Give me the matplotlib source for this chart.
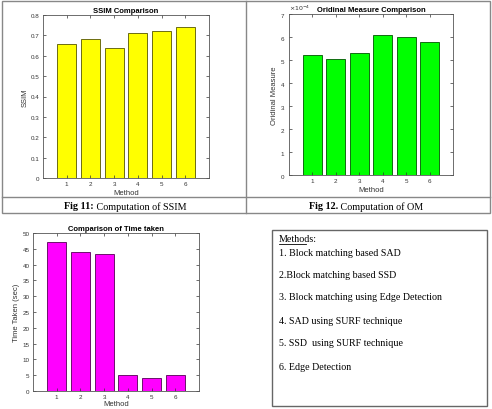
import matplotlib
matplotlib.use("Agg")
import matplotlib.pyplot as plt
from matplotlib.patches import Rectangle

methods = [1, 2, 3, 4, 5, 6]
ssim = [0.66, 0.68, 0.64, 0.71, 0.72, 0.74]
om = [5.2e-4, 5.05e-4, 5.3e-4, 6.1e-4, 6.0e-4, 5.8e-4]
time_taken = [47, 44, 43.5, 5, 4, 5]
method_names = ["1. Block matching based SAD", "2.Block matching based SSD",
                "3. Block matching using Edge Detection", "4. SAD using SURF technique",
                "5. SSD  using SURF technique", "6. Edge Detection"]

W, H = 492, 410
fig = plt.figure(figsize=(W/100, H/100), dpi=100)
sans = ["Liberation Sans", "DejaVu Sans"]
serif = ["Liberation Serif", "DejaVu Serif"]

# background overlay in pixel coords
bg = fig.add_axes([0, 0, 1, 1], zorder=-1)
bg.set_xlim(0, W); bg.set_ylim(H, 0); bg.axis("off")
lc = "#888888"
bg.add_patch(Rectangle((2, 2), 488, 212, fill=False, ec=lc, lw=1))
bg.plot([2, 490], [198, 198], color=lc, lw=1)
bg.plot([246, 246], [2, 214], color=lc, lw=1)
bg.add_patch(Rectangle((272, 231), 215, 176, fill=False, ec="#666666", lw=1))

def caption(xc, bold, rest):
    bg.text(xc, 207, bold, fontsize=7.3, family=serif, fontweight="bold", ha="right", va="center")
    bg.text(xc, 207, rest, fontsize=7.3, family=serif, ha="left", va="center")
caption(94, "Fig 11:", " Computation of SSIM")
caption(338, "Fig 12.", " Computation of OM")

# text box
bg.text(279, 240, "Methods:", fontsize=7.2, family=serif, va="center", ha="left")
bg.plot([279, 306], [245, 245], color="black", lw=0.6)
ys = [253, 276, 298, 322, 344, 368]
for y, s in zip(ys, method_names):
    bg.text(279, y, s, fontsize=7.2, family=serif, va="center", ha="left")

def px(l, r, t, b):
    return [l/W, 1 - b/H, (r - l)/W, (b - t)/H]

def style(ax, title, ylabel, xpad=1.5):
    ax.set_xlim(0, 7)
    ax.set_xticks(methods)
    ax.tick_params(direction="in", length=2, width=0.5, labelsize=4.5, top=True, right=True, pad=2.5, colors="#333333")
    for sp in ax.spines.values():
        sp.set_color("#555555"); sp.set_linewidth(0.6)
    ax.set_title(title, fontsize=5.5, fontweight="bold", family=sans, pad=2)
    ax.set_xlabel("Method", fontsize=5.5, family=sans, color="#333333", labelpad=xpad)
    ax.set_ylabel(ylabel, fontsize=5.5, family=sans, color="#333333", labelpad=1.5)
    for lab in ax.get_xticklabels() + ax.get_yticklabels():
        lab.set_family(sans)

ax1 = fig.add_axes(px(43, 209, 16, 179))
ax1.bar(methods, ssim, width=0.8, color="#FFFF00", edgecolor="#555500", linewidth=0.6)
ax1.set_ylim(0, 0.8)
ax1.set_yticks([0, 0.1, 0.2, 0.3, 0.4, 0.5, 0.6, 0.7, 0.8])
ax1.set_yticklabels(["0", "0.1", "0.2", "0.3", "0.4", "0.5", "0.6", "0.7", "0.8"])
style(ax1, "SSIM Comparison", "SSIM")

ax2 = fig.add_axes(px(289, 453, 15, 176))
ax2.bar(methods, om, width=0.8, color="#00FF00", edgecolor="#005500", linewidth=0.6)
ax2.set_ylim(0, 7e-4)
ax2.set_yticks([i*1e-4 for i in range(8)])
ax2.ticklabel_format(axis="y", style="sci", scilimits=(0, 0), useMathText=True)
ax2.yaxis.get_offset_text().set_fontsize(4.5)
style(ax2, "Oridinal Measure Comparison", "Oridinal Measure")

ax3 = fig.add_axes(px(33, 199, 234, 392))
ax3.bar(methods, time_taken, width=0.8, color="#FF00FF", edgecolor="#550055", linewidth=0.6)
ax3.set_ylim(0, 50)
ax3.set_yticks(range(0, 51, 5))
style(ax3, "Comparison of Time taken", "Time Taken (sec)", xpad=0.5)

fig.savefig("out.png", dpi=100)
